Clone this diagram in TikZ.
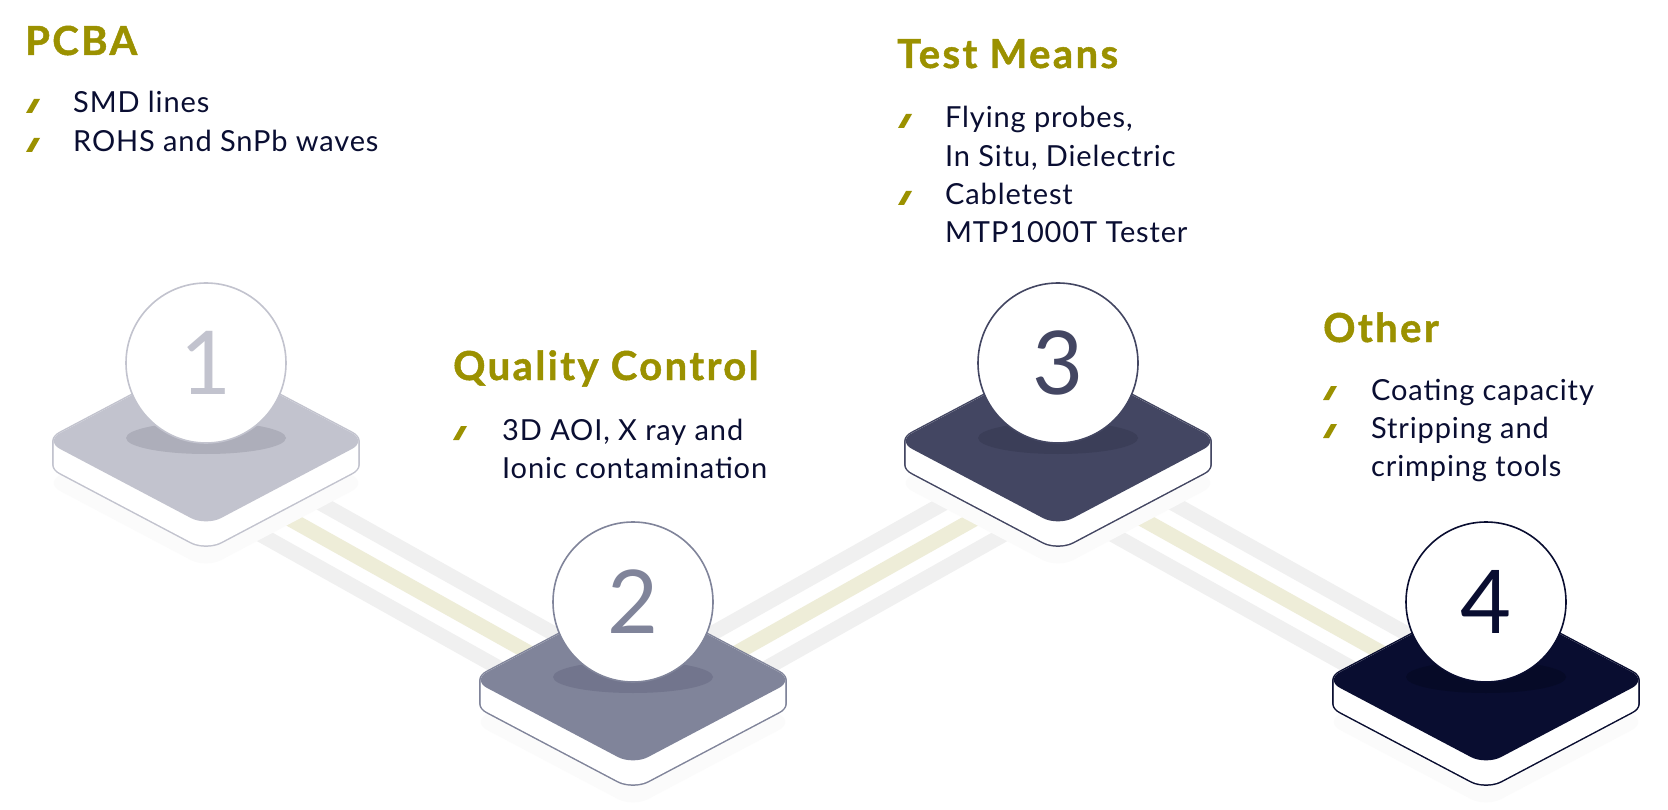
\documentclass[tikz,border=0pt]{standalone}
\usepackage{fontspec}
\setmainfont{Lato}
\newfontfamily\headfont{Lato}[LetterSpace=6, BoldFeatures={FakeBold=1.2}]
\newfontfamily\bodyfont{Lato}[LetterSpace=3]
\usetikzlibrary{calc}
\definecolor{headc}{HTML}{9B9100}
\definecolor{bodyc}{HTML}{0A0E32}
\definecolor{faceA}{HTML}{C2C3CE}
\definecolor{faceB}{HTML}{80849A}
\definecolor{faceC}{HTML}{434662}
\definecolor{faceD}{HTML}{090D30}
\definecolor{ellA}{HTML}{ADAEBA}
\definecolor{ellB}{HTML}{72758D}
\definecolor{ellC}{HTML}{3B3E58}
\definecolor{ellD}{HTML}{060A27}
\definecolor{stripegray}{HTML}{F0F0F0}
\definecolor{stripeyel}{HTML}{EEEDD8}
\definecolor{shadowc}{HTML}{FBFBFB}
\newcommand\platformdraw[5]{%
  \begin{scope}[shift={(#1)}, rounded corners=17pt]
    \foreach \s in {0,1,...,24}
      \draw[line width=3pt,#2] (-161,\s) -- (0,\s-85) -- (161,\s) -- (0,\s+85) -- cycle;
    \foreach \s in {0,1,...,24}
      \fill[white] (-161,\s) -- (0,\s-85) -- (161,\s) -- (0,\s+85) -- cycle;
    \fill[#2] (-161,0) -- (0,-85) -- (161,0) -- (0,85) -- cycle;
  \end{scope}
  \fill[#3] ($(#1)+(0,-3)$) ellipse [x radius=80, y radius=16];
  \node[numcircle, draw=#2, text=#2] (n#4) at ($(#1)+(0,-78)$) {#5};
}
\newcommand\platformshadow[1]{%
  \fill[shadowc, rounded corners=17pt] ($(#1)+(-161,42)$) -- ($(#1)+(0,-43)$) -- ($(#1)+(161,42)$) -- ($(#1)+(0,127)$) -- cycle;
}
\newcommand\bulletmark[2]{%
  \fill[headc] (#1,#2) -- ++(6,0) -- ++(8,-14) -- ++(-6,0) -- cycle;
}
\begin{document}
\begin{tikzpicture}[x=1pt,y=-1pt,
  head/.style={anchor=base west, inner sep=0pt, text=headc, font=\headfont\fontsize{40}{44}\selectfont\bfseries},
  body/.style={anchor=base west, inner sep=0pt, text=bodyc, font=\bodyfont\fontsize{29}{34}\selectfont},
  numcircle/.style={circle, fill=white, line width=1.6pt, minimum size=160pt, inner sep=0pt, font=\fontsize{88}{90}\selectfont},
  stripeg/.style={draw=stripegray, line width=15pt},
  stripey/.style={draw=stripeyel, line width=15pt}]
\useasboundingbox (0,0) rectangle (1668,810);
\fill[white] (0,0) rectangle (1668,810);
\coordinate (p1) at (206,441);
\coordinate (p2) at (633,680);
\coordinate (p3) at (1058,441);
\coordinate (p4) at (1486,680);
% stripes
\foreach \a/\b in {p1/p2, p2/p3, p3/p4} {
  \draw[stripeg] ($(\a)+(0,-2)$) -- ($(\b)+(0,-2)$);
  \draw[stripey] ($(\a)+(0,31)$) -- ($(\b)+(0,31)$);
  \draw[stripeg] ($(\a)+(0,63)$) -- ($(\b)+(0,63)$);
}
% shadows
\platformshadow{p1}
\platformshadow{p2}
\platformshadow{p3}
\platformshadow{p4}
% platforms
\platformdraw{p1}{faceA}{ellA}{1}{1}
\platformdraw{p2}{faceB}{ellB}{2}{2}
\platformdraw{p3}{faceC}{ellC}{3}{3}
\platformdraw{p4}{faceD}{ellD}{4}{4}
% texts
\node[head] (h1) at (25,55) {PCBA};
\bulletmark{26}{113}
\node[body] (t11) at (73,113) {SMD lines};
\bulletmark{26}{152}
\node[body] (t12) at (73,152) {ROHS and SnPb waves};

\node[head] (h2) at (453,380) {Quality Control};
\bulletmark{453}{440}
\node[body] (t21) at (502,440) {3D AOI, X ray and};
\node[body] (t22) at (502,478) {Ionic contamination};

\node[head] (h3) at (897,68) {Test Means};
\bulletmark{898}{128}
\node[body] (t31) at (945,128) {Flying probes,};
\node[body] (t32) at (945,167) {In Situ, Dielectric};
\bulletmark{898}{205}
\node[body] (t33) at (945,205) {Cabletest};
\node[body] (t34) at (945,243) {MTP1000T Tester};

\node[head] (h4) at (1323,342) {Other};
\bulletmark{1323}{400}
\node[body] (t41) at (1371,400) {Coating capacity};
\bulletmark{1323}{438}
\node[body] (t42) at (1371,438) {Stripping and};
\node[body] (t43) at (1371,476) {crimping tools};
\end{tikzpicture}
\end{document}
